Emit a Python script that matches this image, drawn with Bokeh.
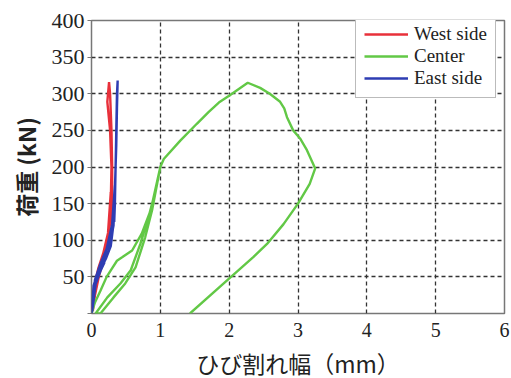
from bokeh.plotting import figure
from bokeh.models import Range1d, FixedTicker, Legend, LegendItem
from bokeh.embed import file_html
from bokeh.resources import INLINE

west_x = [0.0, 0.03, 0.07, 0.12, 0.17, 0.12, 0.06, 0.02,
          0.05, 0.11, 0.19, 0.25, 0.27, 0.28, 0.24, 0.17, 0.10, 0.04, 0.01,
          0.04, 0.12, 0.20, 0.26, 0.28, 0.29, 0.27, 0.23, 0.255, 0.27, 0.29, 0.30, 0.30, 0.29]
west_y = [0, 20, 42, 58, 68, 58, 36, 4,
          25, 52, 78, 105, 135, 165, 110, 82, 62, 38, 3,
          28, 58, 84, 112, 150, 200, 250, 289, 316, 300, 250, 200, 150, 120]

east_x = [0.0, 0.02, 0.06, 0.12, 0.19, 0.13, 0.06, 0.01,
          0.04, 0.11, 0.21, 0.28, 0.31, 0.33, 0.34, 0.30, 0.22, 0.13, 0.05, 0.01,
          0.03, 0.13, 0.25, 0.32, 0.34, 0.36, 0.37, 0.38, 0.37, 0.36, 0.35, 0.34, 0.33]
east_y = [0, 25, 47, 60, 70, 58, 40, 3,
          35, 56, 75, 92, 115, 150, 175, 122, 88, 68, 46, 6,
          38, 66, 86, 120, 170, 230, 280, 318, 300, 250, 200, 150, 125]

center_x = [0.0, 0.05, 0.13, 0.22, 0.28, 0.37, 0.45, 0.59, 0.73, 0.86, 1.0,
            0.93, 0.83, 0.71, 0.57, 0.42, 0.23, 0.06,
            0.13, 0.32, 0.49, 0.64, 0.78, 0.88, 1.0,
            1.05, 1.29, 1.53, 1.70, 1.85, 2.01, 2.27, 2.45, 2.59, 2.74, 2.80, 2.84, 2.93, 3.03, 3.13, 3.25,
            3.17, 3.0, 2.79, 2.55, 2.35, 1.99, 1.43]
center_y = [0, 15, 31, 50, 59, 72, 77, 86, 109, 141, 200,
            168, 132, 95, 59, 41, 22, 0,
            0, 22, 41, 63, 104, 141, 200,
            211, 236, 259, 275, 288, 298, 315, 308, 300, 289, 280, 268, 250, 239, 223, 198,
            177, 150, 122, 95, 77, 47, 0]

x_ticks = [0, 1, 2, 3, 4, 5, 6]
y_ticks = [0, 50, 100, 150, 200, 250, 300, 350, 400]
series_names = ["West side", "Center", "East side"]

p = figure(width=511, height=378, frame_width=413, frame_height=293,
           x_range=Range1d(0, 6), y_range=Range1d(0, 400),
           output_backend="svg", toolbar_location=None,
           min_border_left=91, min_border_right=7, min_border_top=20, min_border_bottom=65)
p.background_fill_color = "white"
p.border_fill_color = "white"
p.outline_line_color = "#777777"
p.outline_line_width = 1.5

serif = "Liberation Serif"
p.xaxis.axis_line_color = None
p.yaxis.axis_line_color = None
p.xaxis.minor_tick_line_color = None
p.yaxis.minor_tick_line_color = None
p.xaxis.major_tick_line_color = None
p.yaxis.major_tick_line_color = "#777777"
p.yaxis.major_tick_line_width = 1.2
p.yaxis.major_tick_in = 0
p.yaxis.major_tick_out = 4

p.xaxis.major_label_text_font = serif
p.yaxis.major_label_text_font = serif
p.xaxis.major_label_text_font_size = "20px"
p.yaxis.major_label_text_font_size = "22px"
p.xaxis.major_label_text_color = "#222222"
p.yaxis.major_label_text_color = "#222222"
p.xaxis.ticker = FixedTicker(ticks=x_ticks)
p.yaxis.ticker = FixedTicker(ticks=y_ticks)
p.yaxis.major_label_overrides = {0: ""}
p.xaxis.major_label_standoff = 3
p.yaxis.major_label_standoff = 3

p.xaxis.axis_label = "ひび割れ幅（mm）"
p.yaxis.axis_label = "荷重 (kN)"
p.xaxis.axis_label_text_font = "Noto Sans CJK JP"
p.yaxis.axis_label_text_font = "Noto Sans CJK JP"
p.xaxis.axis_label_text_color = "#222222"
p.yaxis.axis_label_text_color = "#222222"
p.xaxis.axis_label_text_font_style = "normal"
p.yaxis.axis_label_text_font_style = "bold"
p.xaxis.axis_label_text_font_size = "23px"
p.yaxis.axis_label_text_font_size = "23px"
p.xaxis.axis_label_standoff = 6
p.yaxis.axis_label_standoff = 6

for g in (p.xgrid[0], p.ygrid[0]):
    g.grid_line_color = "#333333"
    g.grid_line_dash = "4 3"
    g.grid_line_width = 1.3

r_w = p.line(west_x, west_y, line_color="#e8303a", line_width=2.4)
r_c = p.line(center_x, center_y, line_color="#62c846", line_width=2.4)
r_e = p.line(east_x, east_y, line_color="#2e3db3", line_width=2.4)

legend = Legend(items=[LegendItem(label=series_names[0], renderers=[r_w]),
                       LegendItem(label=series_names[1], renderers=[r_c]),
                       LegendItem(label=series_names[2], renderers=[r_e])],
                location=(264, 215))
legend.margin = 0
legend.padding = 8
legend.spacing = 0
legend.glyph_width = 44
legend.glyph_height = 16
legend.label_height = 16
legend.label_standoff = 6
legend.label_text_font = serif
legend.label_text_font_size = "19px"
legend.label_text_line_height = 0.9
legend.label_text_color = "#222222"
legend.border_line_color = "#777777"
legend.border_line_width = 1.2
legend.background_fill_alpha = 1.0
p.add_layout(legend)

open("out.html", "w").write(file_html(p, INLINE))
